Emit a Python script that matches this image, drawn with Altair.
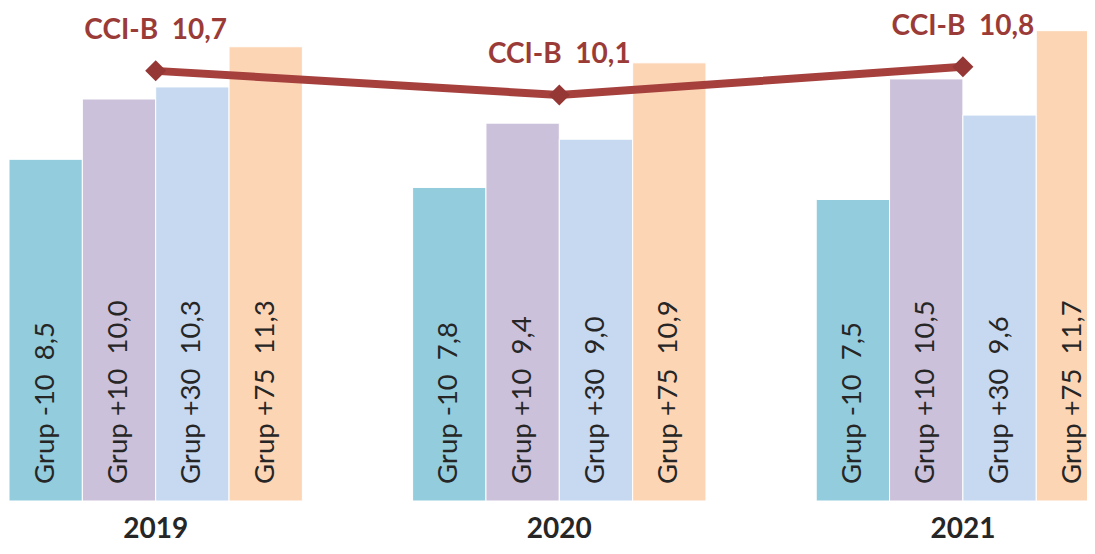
import altair as alt
import pandas as pd

years = ["2019", "2020", "2021"]
groups = ["Grup -10", "Grup +10", "Grup +30", "Grup +75"]
grup_m10 = [8.5, 7.8, 7.5]
grup_p10 = [10.0, 9.4, 10.5]
grup_p30 = [10.3, 9.0, 9.6]
grup_p75 = [11.3, 10.9, 11.7]
cci_b = [10.7, 10.1, 10.8]
bar_colors = ["#93CDDD", "#CCC1DA", "#C6D9F1", "#FCD5B5"]

GAP = "\u00a0\u00a0"


def fmt(v):
    return f"{v:.1f}".replace(".", ",")


rows = []
for series, g in zip([grup_m10, grup_p10, grup_p30, grup_p75], groups):
    for yr, v in zip(years, series):
        rows.append({"year": yr, "group": g, "value": v, "base": 0.0,
                     "label": f"{g}{GAP}{fmt(v)}"})
bars_df = pd.DataFrame(rows)
line_df = pd.DataFrame({"year": years, "value": cci_b,
                        "label": [f"CCI-B{GAP}{fmt(v)}" for v in cci_b]})

# band range wider than the view: the last bar is cut at the right edge, as in the original
x_scale = alt.Scale(domain=years, range=[1, 1101.6], paddingInner=0.2731, paddingOuter=0)
y_scale = alt.Scale(domain=[0, 12.264], nice=False, zero=True)
xoff_scale = alt.Scale(domain=groups, paddingInner=0, paddingOuter=0)

x_enc = alt.X("year:N", scale=x_scale, sort=years,
              axis=alt.Axis(title=None, domain=False, ticks=False, labelAngle=0,
                            labelFont="Lato", labelFontWeight="bold", labelFontSize=28,
                            labelColor="#262626", labelPadding=14))
xoff_enc = alt.XOffset("group:N", scale=xoff_scale, sort=groups)
y_enc = alt.Y("value:Q", scale=y_scale, axis=None)

bars = alt.Chart(bars_df).mark_bar(stroke="white", strokeWidth=1).encode(
    x=x_enc, xOffset=xoff_enc, y=y_enc,
    color=alt.Color("group:N", scale=alt.Scale(domain=groups, range=bar_colors), legend=None),
)

bar_text = alt.Chart(bars_df).mark_text(
    angle=270, align="left", baseline="middle", dx=17,
    font="Lato", fontSize=27.5, color="#262626",
).encode(x=x_enc, xOffset=xoff_enc, y=alt.Y("base:Q", scale=y_scale, axis=None),
         text="label:N")

line = alt.Chart(line_df).mark_line(color="#A5403D", strokeWidth=8).encode(x=x_enc, y=y_enc)
points = alt.Chart(line_df).mark_point(shape="diamond", filled=True, size=441,
                                       color="#953735", opacity=1).encode(x=x_enc, y=y_enc)
line_text = alt.Chart(line_df).mark_text(
    dy=-40, font="Lato", fontWeight="bold", fontSize=28, color="#9B3B38",
).encode(x=x_enc, y=y_enc, text="label:N")

chart = alt.layer(bars, bar_text, line, points, line_text).properties(
    width=1079, height=493,
    autosize=alt.AutoSizeParams(type="none"),
    padding={"left": 0, "top": 0, "right": 0, "bottom": 41},
).configure_view(stroke=None)

chart.save("out.html", embed_options={"renderer": "svg", "actions": False})
